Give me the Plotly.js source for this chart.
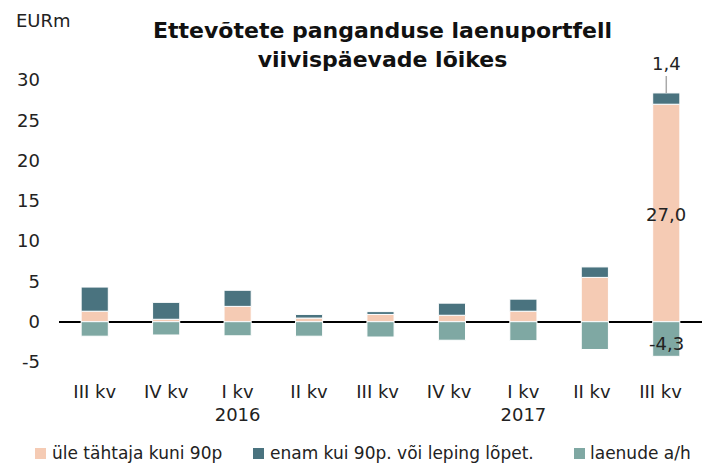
<!DOCTYPE html>
<html>
<head>
<meta charset="utf-8">
<script src="https://cdn.plot.ly/plotly-3.0.1.min.js"></script>
<style>html,body{margin:0;padding:0;background:#fff;}#chart{width:702px;height:464px;}</style>
</head>
<body>
<div id="chart"></div>
<script>
const categories = ["III kv", "IV kv", "I kv<br>2016", "II kv", "III kv ", "IV kv ", "I kv<br>2017", "II kv ", "III kv  "];
const overdueUpTo90 = [1.3, 0.3, 1.9, 0.45, 0.9, 0.8, 1.3, 5.5, 27.0];
const over90OrTerminated = [3.0, 2.1, 2.0, 0.45, 0.35, 1.5, 1.5, 1.3, 1.4];
const writeOffs = [-1.8, -1.65, -1.75, -1.8, -1.9, -2.3, -2.35, -3.45, -4.3];
const seriesNames = ["üle tähtaja kuni 90p", "enam kui 90p. või leping lõpet.", "laenude a/h"];
const colors = ["#F5CBB4", "#4A737F", "#7FA8A3"];
const yTicks = [-5, 0, 5, 10, 15, 20, 25, 30];

const font = "DejaVu Sans, Liberation Sans, Arial, sans-serif";
const idx = categories.map((c, i) => i);

const mk = (y, i) => ({
  type: "bar", x: idx, y: y, name: seriesNames[i], width: 0.38,
  marker: {color: colors[i], line: {color: "#ffffff", width: 1}},
  hoverinfo: "skip", showlegend: false
});
const traces = [mk(overdueUpTo90, 0), mk(over90OrTerminated, 1), mk(writeOffs, 2)];

const last = categories.length - 1;
const fmt = v => v.toFixed(1).replace(".", ",");
// plot area: x 59..702, y 72..366 (pixels)
const px = p => (p - 59) / 643;
const py = p => (366 - p) / 294;
const annotations = [
  {xref: "paper", yref: "paper", x: px(14), y: py(21), xanchor: "left", yanchor: "middle",
   text: "EURm", showarrow: false, font: {family: font, size: 18, color: "#222"}},
  {xref: "paper", yref: "paper", x: px(382), y: py(45), xanchor: "center", yanchor: "middle",
   text: "<b>Ettevõtete panganduse laenuportfell<br>viivispäevade lõikes</b>", showarrow: false,
   font: {family: font, size: 22, color: "#111"}},
  {x: last, y: overdueUpTo90[last] + over90OrTerminated[last], text: fmt(over90OrTerminated[last]),
   showarrow: true, arrowhead: 0, arrowwidth: 1.5, arrowcolor: "#aaaaaa", ax: 0, ay: -29, standoff: 0,
   font: {family: font, size: 18, color: "#222"}},
  {x: last, y: overdueUpTo90[last] / 2, text: fmt(overdueUpTo90[last]), showarrow: false, yshift: -2,
   font: {family: font, size: 18, color: "#222"}},
  {x: last, y: writeOffs[last] / 2, text: fmt(writeOffs[last]), showarrow: false, yshift: -4,
   font: {family: font, size: 18, color: "#222"}}
];
// legend built from the series names and colours
const legendSwatchX = [35, 253, 574];
const legendTextX = [50, 268, 588];
const shapes = [];
seriesNames.forEach((n, i) => {
  annotations.push({xref: "paper", yref: "paper", x: px(legendTextX[i]), y: py(453),
    xanchor: "left", yanchor: "middle", showarrow: false, text: n,
    font: {family: font, size: 17, color: "#222"}});
  shapes.push({type: "rect", xref: "paper", yref: "paper",
    x0: px(legendSwatchX[i]), x1: px(legendSwatchX[i] + 11), y0: py(459), y1: py(448),
    fillcolor: colors[i], line: {width: 0}});
});

const layout = {
  width: 702, height: 464,
  margin: {l: 59, r: 0, t: 72, b: 98},
  paper_bgcolor: "#fff", plot_bgcolor: "#fff",
  barmode: "relative", bargap: 0,
  showlegend: false,
  xaxis: {range: [-0.5, 8.5], tickvals: idx, ticktext: categories, showgrid: false,
    zeroline: false, showline: false, ticks: "", ticklabelstandoff: 13,
    tickfont: {family: font, size: 18, color: "#222"}, fixedrange: true},
  yaxis: {range: [-5.5, 31], tickvals: yTicks, ticktext: yTicks.map(String), showgrid: false,
    zeroline: true, zerolinecolor: "#000", zerolinewidth: 2, showline: false, ticks: "",
    ticklabelstandoff: 18, tickfont: {family: font, size: 18, color: "#222"}, fixedrange: true},
  annotations: annotations,
  shapes: shapes
};
Plotly.newPlot("chart", traces, layout, {displayModeBar: false, staticPlot: true});
</script>
</body>
</html>
